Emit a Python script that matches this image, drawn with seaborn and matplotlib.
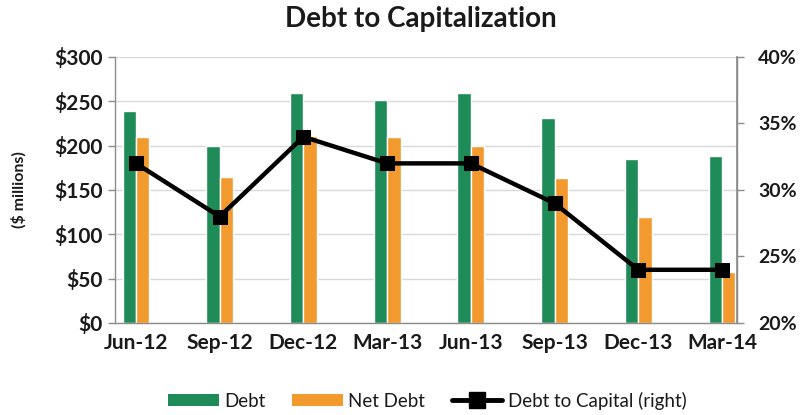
import matplotlib
matplotlib.use("Agg")
import matplotlib.pyplot as plt
from matplotlib.lines import Line2D
from matplotlib.patches import Patch
import numpy as np
import pandas as pd
import seaborn as sns

# Quarter-end values
periods = ["Jun-12", "Sep-12", "Dec-12", "Mar-13", "Jun-13", "Sep-13", "Dec-13", "Mar-14"]
debt = [239, 200, 259, 251, 259, 231, 185, 188]
net_debt = [210, 165, 211, 210, 200, 163, 119, 58]
debt_to_capital = [32, 28, 34, 32, 32, 29, 24, 24]

left_ticks = [0, 50, 100, 150, 200, 250, 300]
left_labels = ["$0", "$50", "$100", "$150", "$200", "$250", "$300"]
right_ticks = [20, 25, 30, 35, 40]
right_labels = ["20%", "25%", "30%", "35%", "40%"]

GREEN = "#1f8b58"
ORANGE = "#f29a2e"
GRID = "#d9d9d9"
SPINE = "#8c8c8c"
TEXT = "#1a1a1a"

sns.set_theme(style="white")
plt.rcParams["font.family"] = ["Lato", "DejaVu Sans"]

bars = pd.DataFrame({
    "period": periods * 2,
    "series": ["Debt"] * len(periods) + ["Net Debt"] * len(periods),
    "value": debt + net_debt,
})

fig = plt.figure(figsize=(8.02, 4.15), dpi=100)
ax = fig.add_axes([0.1434, 0.2217, 0.7756, 0.641])

sns.barplot(data=bars, x="period", y="value", hue="series", order=periods,
            hue_order=["Debt", "Net Debt"], palette=[GREEN, ORANGE],
            width=0.32, gap=0, saturation=1, legend=False, ax=ax, zorder=2)

ax.set_ylim(0, 300)
ax.set_yticks(left_ticks)
ax.set_yticklabels(left_labels, fontsize=15, fontweight="bold", color=TEXT)
ax.yaxis.grid(True, color=GRID, linewidth=1)
ax.set_axisbelow(True)
ax.set_xlim(-0.251, 7.18)

# category labels under each bar pair; tick marks on the left edge of each pair
pos = np.arange(len(periods))
ax.set_xticks(pos - 0.16)
ax.set_xticklabels([])
ax.set_xticks(pos, minor=True)
ax.set_xticklabels(periods, minor=True, fontsize=15, fontweight="bold", color=TEXT)
ax.tick_params(axis="x", which="major", length=5, width=1, color=SPINE, direction="out")
ax.tick_params(axis="x", which="minor", length=0, pad=7)
ax.tick_params(axis="y", length=5, width=1, color=SPINE, direction="out", pad=4)
ax.set_xlabel("")
ax.set_ylabel("($ millions)", fontsize=11.5, fontweight="bold", color=TEXT, labelpad=20)

ax.spines["top"].set_visible(False)
for side in ["left", "bottom", "right"]:
    ax.spines[side].set_color(SPINE)
    ax.spines[side].set_linewidth(1)

ax2 = ax.twinx()
sns.lineplot(x=pos, y=debt_to_capital, color="black", linewidth=3.2, marker="s",
             markersize=10, markeredgecolor="black", ax=ax2, zorder=3)
ax2.set_ylim(20, 40)
ax2.set_yticks(right_ticks)
ax2.set_yticklabels(right_labels, fontsize=14, fontweight="bold", color=TEXT)
ax2.tick_params(axis="y", length=5, width=1, color=SPINE, direction="out", pad=10)
ax2.set_xlim(-0.251, 7.18)
ax2.spines["top"].set_visible(False)
ax2.spines["left"].set_visible(False)
ax2.spines["bottom"].set_visible(False)
ax2.spines["right"].set_color(SPINE)
ax2.grid(False)

fig.suptitle("Debt to Capitalization", x=0.525, y=0.985, fontsize=20,
             fontweight="bold", color=TEXT)

handles = [
    Patch(facecolor=GREEN, edgecolor="none"),
    Patch(facecolor=ORANGE, edgecolor="none"),
    Line2D([0], [0], color="black", linewidth=3.5, marker="s", markersize=11),
]
fig.legend(handles, ["Debt", "Net Debt", "Debt to Capital (right)"],
           loc="center", bbox_to_anchor=(0.533, 0.035), ncol=3, frameon=False,
           fontsize=13.5, handlelength=2.7, handleheight=0.6, columnspacing=1.4,
           handletextpad=0.3, labelcolor=TEXT)

fig.savefig("out.png", dpi=100)
